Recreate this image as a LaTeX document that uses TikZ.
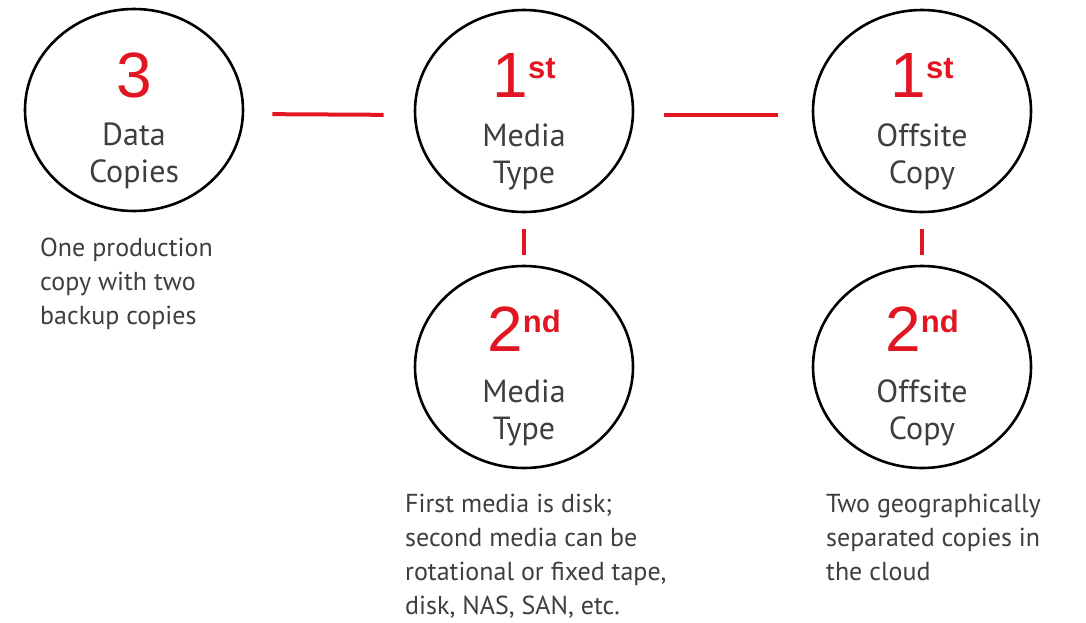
\documentclass[tikz,border=0pt]{standalone}
\usepackage{fontspec}
\setmainfont{PT Sans}
\newfontfamily\countfont{Liberation Sans}
\usetikzlibrary{shapes.geometric}

\definecolor{rulered}{RGB}{226,22,34}
\definecolor{textgrey}{RGB}{62,62,62}

% big red count with its ordinal suffix
\newcommand{\ordnum}[2]{#1\raisebox{19pt}{\fontsize{31}{31}\selectfont\bfseries #2}}

\begin{document}
\begin{tikzpicture}[x=1pt, y=-1pt,
    ring/.style={draw=black, line width=2.6pt, ellipse, minimum width=218pt, minimum height=202pt, inner sep=0pt},
    bignum/.style={anchor=base, inner sep=0pt, text=rulered, font=\countfont\fontsize{64}{64}\selectfont},
    ringlabel/.style={anchor=north, inner sep=0pt, align=center, text=textgrey, font=\fontsize{32}{37}\selectfont},
    note/.style={anchor=north west, inner sep=0pt, align=left, text=textgrey, font=\fontsize{26}{34}\selectfont},
    link/.style={draw=rulered, line width=4pt}]
    \useasboundingbox (0,0) rectangle (1086,622);

    % Rings
    \node[ring] (copies) at (134,110) {};
    \node[ring] (media1) at (524,111) {};
    \node[ring] (media2) at (524,367) {};
    \node[ring] (site1) at (922,111) {};
    \node[ring] (site2) at (922,367) {};

    % Counts
    \node[bignum] at ([yshift=13pt]copies.center) {3};
    \node[bignum] at ([yshift=14pt]media1.center) {\ordnum{1}{st}};
    \node[bignum] at ([yshift=16pt]media2.center) {\ordnum{2}{nd}};
    \node[bignum] at ([yshift=14pt]site1.center) {\ordnum{1}{st}};
    \node[bignum] at ([yshift=16pt]site2.center) {\ordnum{2}{nd}};

    % Ring labels
    \node[ringlabel] at ([yshift=-13pt]copies.center) {Data\\Copies};
    \node[ringlabel] at ([yshift=-13pt]media1.center) {Media\\Type};
    \node[ringlabel] at ([yshift=-13pt]media2.center) {Media\\Type};
    \node[ringlabel] at ([yshift=-13pt]site1.center) {Offsite\\Copy};
    \node[ringlabel] at ([yshift=-13pt]site2.center) {Offsite\\Copy};

    % Links
    \draw[link, shorten <=28pt, shorten >=30pt] ([yshift=-4pt]copies.east) -- ([yshift=-4pt]media1.west);
    \draw[link, shorten <=30pt, shorten >=34pt] ([yshift=-4pt]media1.east) -- ([yshift=-4pt]site1.west);
    \draw[link, shorten <=16pt, shorten >=10pt] (media1.south) -- (media2.north);
    \draw[link, shorten <=16pt, shorten >=10pt] (site1.south) -- (site2.north);

    % Notes
    \node[note] (copiesnote) at (40,238) {One production\\copy with two\\backup copies};
    \node[note] (medianote) at (405,494) {First media is disk;\\second media can be\\rotational or fixed tape,\\disk, NAS, SAN, etc.};
    \node[note] (sitenote) at (826,494) {Two geographically\\separated copies in\\the cloud};
\end{tikzpicture}
\end{document}
